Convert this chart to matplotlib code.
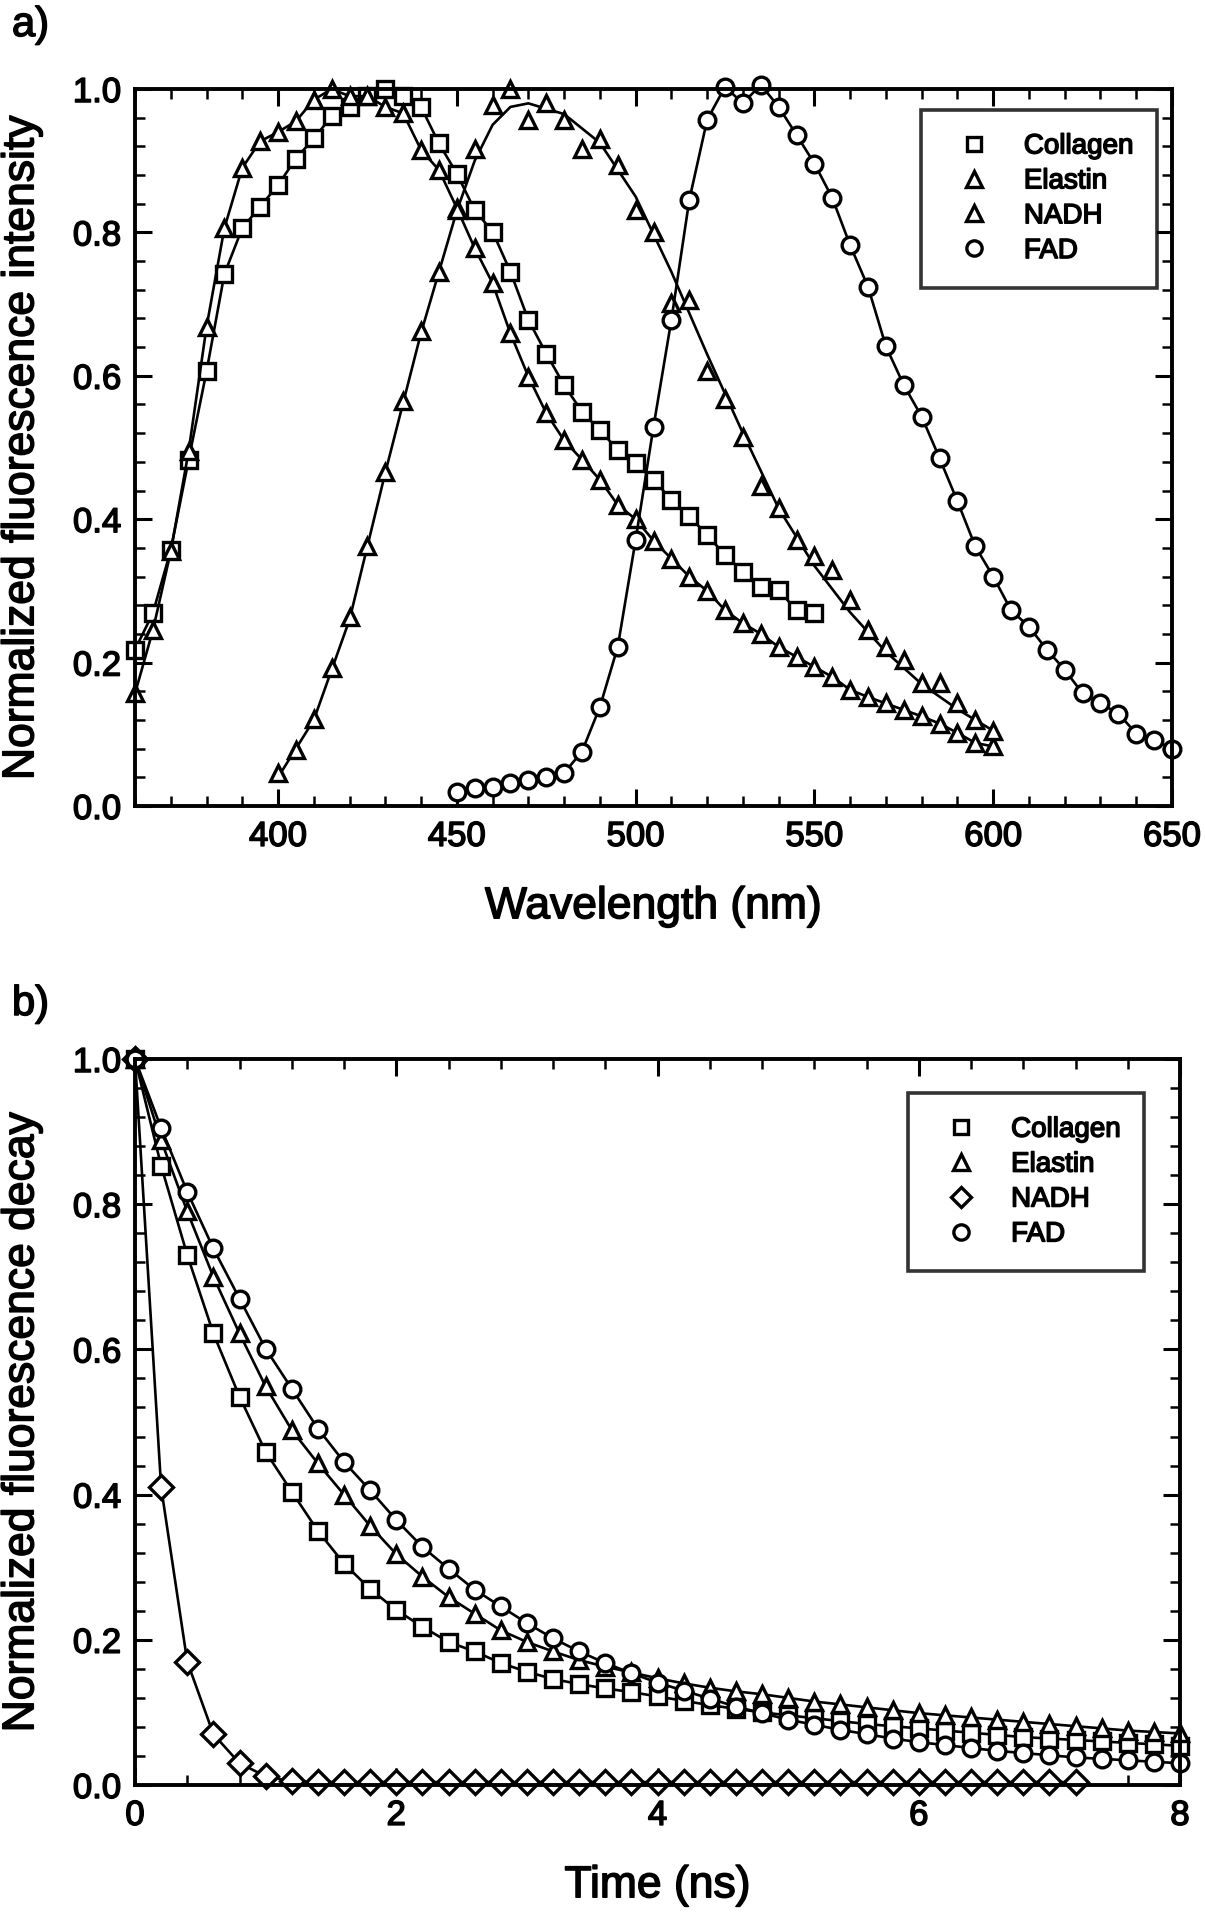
import numpy as np
import matplotlib
matplotlib.use('Agg')
import matplotlib.pyplot as plt
import matplotlib.patheffects as pe
from matplotlib.lines import Line2D
from matplotlib.ticker import MultipleLocator, FormatStrFormatter

plt.rcParams['font.family'] = ['Liberation Sans', 'DejaVu Sans']

# ---- panel a: emission spectra (wavelength in nm) ----
collagen_nm = np.arange(360, 551, 5)
collagen_em = [0.218, 0.269, 0.357, 0.483, 0.606, 0.742, 0.806, 0.836, 0.866,
               0.903, 0.931, 0.962, 0.975, 0.99, 1.0, 0.99, 0.975, 0.924, 0.882,
               0.831, 0.801, 0.745, 0.678, 0.631, 0.587, 0.55, 0.524, 0.497, 0.478,
               0.455, 0.427, 0.404, 0.378, 0.35, 0.327, 0.306, 0.301, 0.273, 0.269]

elastin_nm = np.arange(360, 601, 5)
elastin_em = [0.157, 0.245, 0.355, 0.495, 0.668, 0.806, 0.89, 0.927, 0.94, 0.955,
              0.985, 1.0, 0.99, 0.99, 0.975, 0.966, 0.915, 0.887, 0.834, 0.778,
              0.729, 0.659, 0.599, 0.548, 0.51, 0.483, 0.455, 0.42, 0.40, 0.37,
              0.345, 0.32, 0.30, 0.273, 0.255, 0.24, 0.222, 0.208, 0.194, 0.18,
              0.162, 0.152, 0.143, 0.134, 0.125, 0.115, 0.102, 0.088, 0.083]

nadh_nm = np.arange(400, 601, 5)
nadh_em = [0.046, 0.078, 0.122, 0.192, 0.264, 0.362, 0.466, 0.565, 0.662, 0.745,
           0.831, 0.917, 0.978, 1.0, 0.957, 0.98, 0.957, 0.917, 0.93, 0.894,
           0.831, 0.801, 0.701, 0.706, 0.606, 0.568, 0.515, 0.447, 0.415, 0.371,
           0.348, 0.329, 0.287, 0.245, 0.222, 0.204, 0.171, 0.171, 0.143, 0.12,
           0.105]
# fitted curve drawn through the NADH points
nadh_fit_nm = [400, 410, 420, 430, 440, 450, 455, 460, 465, 470, 480, 490, 500,
               510, 520, 530, 540, 550, 560, 570, 580, 590, 600]
nadh_fit_em = [0.04, 0.12, 0.26, 0.465, 0.66, 0.83, 0.90, 0.95, 0.975, 0.98,
               0.965, 0.925, 0.85, 0.745, 0.63, 0.52, 0.415, 0.335, 0.27, 0.215,
               0.17, 0.135, 0.105]

fad_nm = np.arange(450, 651, 5)
fad_em = [0.020, 0.025, 0.027, 0.032, 0.036, 0.041, 0.046, 0.076, 0.138, 0.222,
          0.371, 0.529, 0.678, 0.845, 0.957, 1.003, 0.98, 1.006, 0.975, 0.936,
          0.896, 0.848, 0.782, 0.724, 0.641, 0.587, 0.543, 0.485, 0.425, 0.362,
          0.320, 0.273, 0.250, 0.218, 0.190, 0.157, 0.143, 0.129, 0.101, 0.092,
          0.080]

# ---- panel b: fluorescence decay (time in ns) ----
time_ns = np.linspace(0, 8, 41)
collagen_decay = [1.0, 0.853, 0.73, 0.622, 0.535, 0.459, 0.404, 0.35, 0.305, 0.27,
                  0.241, 0.218, 0.197, 0.184, 0.168, 0.156, 0.146, 0.139, 0.133, 0.128,
                  0.122, 0.116, 0.11, 0.105, 0.1, 0.096, 0.092, 0.088, 0.084, 0.081,
                  0.078, 0.075, 0.072, 0.069, 0.066, 0.064, 0.062, 0.06, 0.058, 0.056,
                  0.054]
elastin_decay = [1.0, 0.888, 0.79, 0.70, 0.622, 0.549, 0.489, 0.443, 0.40, 0.357,
                 0.318, 0.287, 0.259, 0.236, 0.213, 0.197, 0.184, 0.172, 0.163, 0.155,
                 0.147, 0.14, 0.134, 0.129, 0.125, 0.12, 0.115, 0.111, 0.107, 0.103,
                 0.099, 0.096, 0.093, 0.09, 0.087, 0.084, 0.081, 0.078, 0.075, 0.073,
                 0.071]
fad_decay = [1.0, 0.905, 0.817, 0.739, 0.67, 0.601, 0.546, 0.491, 0.445, 0.406,
             0.365, 0.328, 0.298, 0.269, 0.246, 0.223, 0.202, 0.184, 0.168, 0.154,
             0.141, 0.13, 0.119, 0.108, 0.099, 0.09, 0.083, 0.076, 0.07, 0.064,
             0.059, 0.055, 0.051, 0.047, 0.044, 0.041, 0.038, 0.036, 0.034, 0.032,
             0.03]
nadh_time_ns = np.linspace(0, 7.2, 37)
nadh_decay = [1.0, 0.41, 0.17, 0.07, 0.03, 0.012, 0.005, 0.004, 0.004, 0.004,
              0.004, 0.004, 0.004, 0.004, 0.004, 0.004, 0.004, 0.004, 0.004, 0.004,
              0.004, 0.004, 0.004, 0.004, 0.004, 0.004, 0.004, 0.004, 0.004, 0.004,
              0.004, 0.004, 0.004, 0.004, 0.004, 0.004, 0.004]

W, H = 1205, 1920
fig = plt.figure(figsize=(W / 100, H / 100), dpi=100)
ax1 = fig.add_axes([135 / W, 1 - 806 / H, 1037 / W, 717 / H])
ax2 = fig.add_axes([135 / W, 1 - 1785 / H, 1045 / W, 726 / H])

line_kw = dict(color='black', lw=1.9, mfc='white', mec='black', mew=2.4, clip_on=False)
heavy = [pe.withStroke(linewidth=1.1, foreground='black')]


def style_axes(ax):
    for sp in ax.spines.values():
        sp.set_linewidth(2.8)
    ax.tick_params(which='both', direction='in', top=True, right=True)
    ax.tick_params(which='major', length=12, width=2.2, labelsize=25, pad=10)
    ax.tick_params(which='minor', length=7, width=1.8)
    ax.yaxis.set_major_locator(MultipleLocator(0.2))
    ax.yaxis.set_minor_locator(MultipleLocator(0.04))
    ax.yaxis.set_major_formatter(FormatStrFormatter('%.1f'))


def legend_handles(markers, sizes):
    return [Line2D([], [], linestyle='none', marker=m, ms=s, mfc='white',
                   mec='black', mew=2.4) for m, s in zip(markers, sizes)]


# panel a
ax1.plot(collagen_nm, collagen_em, marker='s', ms=11, **line_kw)
ax1.plot(elastin_nm, elastin_em, marker='^', ms=12, **line_kw)
ax1.plot(nadh_fit_nm, nadh_fit_em, color='black', lw=1.9, clip_on=False)
ax1.plot(nadh_nm, nadh_em, marker='^', ms=12, linestyle='none',
         mfc='white', mec='black', mew=2.4, clip_on=False)
ax1.plot(fad_nm, fad_em, marker='o', ms=12, **line_kw)

ax1.set_xlim(360, 650)
ax1.set_ylim(0, 1.0)
style_axes(ax1)
ax1.xaxis.set_major_locator(MultipleLocator(50))
ax1.xaxis.set_minor_locator(MultipleLocator(10))
ax1.set_xlabel('Wavelength (nm)', fontsize=32, labelpad=24)
ax1.set_ylabel('Normalized fluorescence intensity', fontsize=32, labelpad=22)

leg1 = ax1.legend(legend_handles(['s', '^', '^', 'o'], [10, 11, 11, 11]),
                  ['Collagen', 'Elastin', 'NADH', 'FAD'],
                  loc='upper left', bbox_to_anchor=(0.758, 0.971), fontsize=20,
                  frameon=True, fancybox=False, borderpad=0.85, handlelength=2.1,
                  handletextpad=0.75, labelspacing=0.32, borderaxespad=0,
                  numpoints=1)
leg1.get_frame().set_edgecolor('black')
leg1.get_frame().set_linewidth(2.6)

# panel b
ax2.plot(time_ns, collagen_decay, marker='s', ms=11, **line_kw)
ax2.plot(time_ns, elastin_decay, marker='^', ms=12, **line_kw)
ax2.plot(nadh_time_ns, nadh_decay, marker='D', ms=12, **line_kw)
ax2.plot(time_ns, fad_decay, marker='o', ms=12, **line_kw)

ax2.set_xlim(0, 8)
ax2.set_ylim(0, 1.0)
style_axes(ax2)
ax2.xaxis.set_major_locator(MultipleLocator(2))
ax2.xaxis.set_minor_locator(MultipleLocator(0.4))
ax2.set_xlabel('Time (ns)', fontsize=32, labelpad=24)
ax2.set_ylabel('Normalized fluorescence decay', fontsize=32, labelpad=22)

leg2 = ax2.legend(legend_handles(['s', '^', 'D', 'o'], [10, 11, 10, 11]),
                  ['Collagen', 'Elastin', 'NADH', 'FAD'],
                  loc='upper left', bbox_to_anchor=(0.740, 0.953), fontsize=20,
                  frameon=True, fancybox=False, borderpad=0.85, handlelength=2.1,
                  handletextpad=0.75, labelspacing=0.32, borderaxespad=0,
                  numpoints=1)
leg2.get_frame().set_edgecolor('black')
leg2.get_frame().set_linewidth(2.6)

ta = fig.text(12 / W, 1 - 25 / H, 'a)', fontsize=30, va='center', ha='left')
tb = fig.text(12 / W, 1 - 1004 / H, 'b)', fontsize=30, va='center', ha='left')

# scanned-print look: slightly heavier text strokes
texts = [ta, tb]
for ax, leg in ((ax1, leg1), (ax2, leg2)):
    texts += ax.get_xticklabels() + ax.get_yticklabels()
    texts += [ax.xaxis.label, ax.yaxis.label]
    texts += leg.get_texts()
for t in texts:
    t.set_path_effects(heavy)

fig.savefig('out.png', dpi=100, facecolor='white')
